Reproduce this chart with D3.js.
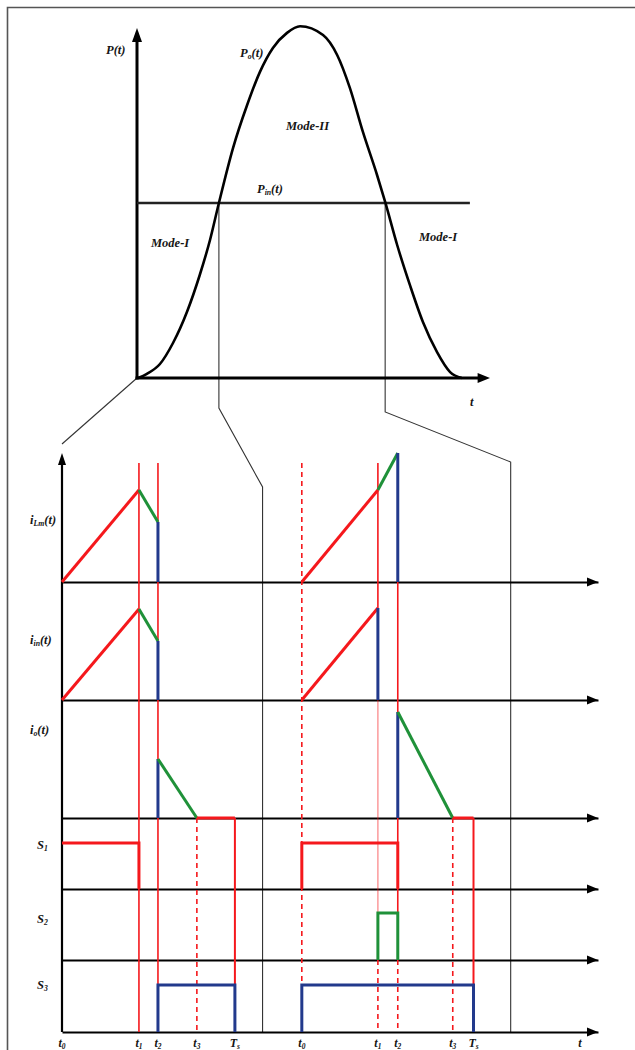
<!DOCTYPE html>
<html><head><meta charset="utf-8">
<script src="https://cdn.jsdelivr.net/npm/d3@7"></script>
<style>
html,body{margin:0;padding:0;background:#fff;}
svg{display:block;}
text{font-family:"Liberation Serif","DejaVu Serif",serif;font-style:italic;font-weight:bold;fill:#151515;}
</style></head>
<body>
<svg id="c" width="635" height="1050"></svg>
<script>
// ---------- DATA ----------
// Top chart: output power curve Po(t) (t, P) in arbitrary units
const curveT = [0.3, 2.8, 6.5, 10.2, 14.2, 17.8, 20.7, 23.2, 27.2, 31.2, 34.8, 38.5, 42.5, 46.2, 52.7, 56.7, 60.3, 64.0, 68.0, 70.3, 73.7, 77.3, 81.0, 85.0, 88.7, 92.0];
const curveP = [0, 1.2, 4.0, 10.0, 19.0, 29.5, 39.5, 50.0, 65.7, 78.0, 87.4, 94.3, 98.6, 100.5, 98.0, 92.3, 82.9, 70.3, 58.0, 50.3, 38.0, 26.6, 16.0, 7.4, 1.7, 0];
const pInLevel = 50;          // Pin(t)
const pInEnd = 94.3;          // Pin line extent
const crossT = [23.2, 70.3];  // intersections of Po and Pin

// Bottom chart: time instants (Ts = 10 units)
const period1 = {t0: 0, t1: 4.45, t2: 5.55, t3: 7.8, Ts: 10};
const period2 = {t0: 13.87, t1: 18.27, t2: 19.42, t3: 22.6, Ts: 23.8};
const zoomEdges = [11.6, 25.95];   // right edges of the zoomed windows
const tLabelT = 29.95;

// Panel baselines (bottom-chart vertical units) and labels
const panelNames = ["iLm", "iin", "io", "S1", "S2", "S3"];
const panelBase = [45, 33.2, 21.4, 14.3, 7.2, 0];
const panelLabelY = [51.2, 39.2, 30.2, 18.7, 11.3, 4.7];

// Waveform amplitudes
const iLmPeak = [9.2, 9.2];      // at t1 (period 1, period 2)
const iLmEnd  = [6.0, 12.9];     // at t2
const iinPeak = [9.1, 9.2];
const iinEnd1 = 5.9;             // period 1 at t2
const ioStart = [5.9, 10.6];     // at t2
const switchHigh = [4.6, 4.7, 4.7]; // S1, S2, S3

// ---------- SCALES ----------
const svg = d3.select("#c");
const xT = d3.scaleLinear().domain([0, 100]).range([137, 490]);
const yT = d3.scaleLinear().domain([0, 100]).range([378, 28]);
const xB = d3.scaleLinear().domain([0, 31]).range([62, 598]);
const yB = d3.scaleLinear().domain([0, 57.9]).range([1032, 453]);

const RED = "#f5181c", GREEN = "#1f9139", BLUE = "#22398c";

// frame
svg.append("path").attr("d", "M7.5,1050 L7.5,7.5 L640,7.5").attr("fill", "none").attr("stroke", "#555").attr("stroke-width", 1.6);

// ---------- CONNECTOR GUIDES ----------
const guide = svg.append("g").attr("fill", "none").attr("stroke", "#333").attr("stroke-width", 1.1);
const line = d3.line();
guide.append("path").attr("d", line([[xT(0), yT(0)], [xB(0), yB(58.8)]]));
guide.append("path").attr("d", line([[xT(crossT[0]), yT(pInLevel)], [xT(crossT[0]), yT(-8.6)], [xB(zoomEdges[0]), yB(54.5)], [xB(zoomEdges[0]), yB(0)]]));
guide.append("path").attr("d", line([[xT(crossT[1]), yT(pInLevel)], [xT(crossT[1]), yT(-9.7)], [xB(zoomEdges[1]), yB(57)], [xB(zoomEdges[1]), yB(0)]]));

// ---------- TOP CHART ----------
const topG = svg.append("g");
topG.append("line").attr("x1", xT(0)).attr("x2", xT(0)).attr("y1", yT(0) + 1.5).attr("y2", yT(97)).attr("stroke", "#000").attr("stroke-width", 3);
topG.append("path").attr("d", `M${xT(0)},${yT(100)} L${xT(0) - 5},${yT(96)} L${xT(0) + 5},${yT(96)} Z`).attr("fill", "#000");
topG.append("line").attr("x1", xT(0) - 1.5).attr("x2", xT(97)).attr("y1", yT(0)).attr("y2", yT(0)).attr("stroke", "#000").attr("stroke-width", 3);
topG.append("path").attr("d", `M${xT(100)},${yT(0)} L${xT(96.5)},${yT(0) - 5} L${xT(96.5)},${yT(0) + 5} Z`).attr("fill", "#000");
topG.append("line").attr("x1", xT(0)).attr("x2", xT(pInEnd)).attr("y1", yT(pInLevel)).attr("y2", yT(pInLevel)).attr("stroke", "#222").attr("stroke-width", 2.6);
topG.append("path").datum(curveT.map((t, i) => [t, curveP[i]]))
  .attr("d", d3.line().x(d => xT(d[0])).y(d => yT(d[1])).curve(d3.curveMonotoneX))
  .attr("fill", "none").attr("stroke", "#000").attr("stroke-width", 2.6);

function label(g, x, y, main, sub, tail, size, anchor) {
  const t = g.append("text").attr("x", x).attr("y", y).attr("font-size", size).attr("text-anchor", anchor || "start");
  t.append("tspan").text(main);
  if (sub) t.append("tspan").attr("font-size", size * 0.62).attr("dy", size * 0.18).text(sub);
  if (tail) t.append("tspan").attr("dy", sub ? -size * 0.18 : 0).text(tail);
  return t;
}
label(topG, 106, 54, "P", null, "(t)", 12.5);
label(topG, 240, 57, "P", "o", "(t)", 12.5);
label(topG, 286, 130, "Mode-II", null, null, 12.5);
label(topG, 257, 193, "P", "in", "(t)", 12.5);
label(topG, 151, 247, "Mode-I", null, null, 12.5);
label(topG, 419, 241, "Mode-I", null, null, 12.5);
label(topG, 470, 406, "t", null, null, 12.5);

// ---------- BOTTOM CHART ----------
const bot = svg.append("g");
// y axis
bot.append("line").attr("x1", xB(0)).attr("x2", xB(0)).attr("y1", yB(0)).attr("y2", yB(56.8)).attr("stroke", "#000").attr("stroke-width", 2.2);
bot.append("path").attr("d", `M${xB(0)},${yB(57.9)} L${xB(0) - 4},${yB(56.7)} L${xB(0) + 4},${yB(56.7)} Z`).attr("fill", "#000");
// baselines with arrows
panelBase.forEach(b => {
  const ax = bot.append("g").attr("transform", `translate(0,${yB(b)})`)
    .call(d3.axisBottom(xB).tickValues([]).tickSizeOuter(0));
  ax.select(".domain").attr("stroke", "#000").attr("stroke-width", 2.2);
  bot.append("path").attr("d", `M${xB(31)},${yB(b)} L${xB(31) - 11},${yB(b) - 4.5} L${xB(31) - 11},${yB(b) + 4.5} Z`).attr("fill", "#000");
});

// vertical time markers
const vm = bot.append("g").attr("fill", "none");
function vline(t, y1, y2, color, w, dash, op) {
  vm.append("line").attr("x1", xB(t)).attr("x2", xB(t)).attr("y1", yB(y1)).attr("y2", yB(y2))
    .attr("stroke", color).attr("stroke-width", w).attr("stroke-dasharray", dash || null).attr("opacity", op || 1);
}
const topY = 56.9;
// period 1
vline(period1.t1, topY, 0, RED, 1.6);
vline(period1.t2, topY, 0, RED, 1.6);
vline(period1.t3, panelBase[2], 0, RED, 1.6, "5,4");
vline(period1.Ts, panelBase[2], panelBase[5] + switchHigh[2], RED, 2);
// period 2
vline(period2.t0, topY, 0, RED, 1.6, "5,4");
vline(period2.t1, topY, panelBase[1], RED, 1.6);
vline(period2.t1, panelBase[1], panelBase[4] + switchHigh[1], RED, 1.2, null, 0.55);
vline(period2.t1, panelBase[4], 0, RED, 1.6, "5,4");
vline(period2.t2, topY, panelBase[4], RED, 1.6);
vline(period2.t2, panelBase[4], 0, RED, 1.6, "5,4");
vline(period2.t3, panelBase[2], 0, RED, 1.6, "5,4");
vline(period2.Ts, panelBase[2], panelBase[5] + switchHigh[2], RED, 2);

// waveforms
const wf = bot.append("g").attr("fill", "none").attr("stroke-width", 3).attr("stroke-linejoin", "miter");
function seg(pts, color) {
  wf.append("path").datum(pts).attr("d", d3.line().x(d => xB(d[0])).y(d => yB(d[1]))).attr("stroke", color);
}
const P = [period1, period2];
// iLm
P.forEach((p, k) => {
  const b = panelBase[0];
  seg([[p.t0, b], [p.t1, b + iLmPeak[k]]], RED);
  seg([[p.t1, b + iLmPeak[k]], [p.t2, b + iLmEnd[k]]], GREEN);
  seg([[p.t2, b + iLmEnd[k]], [p.t2, b]], BLUE);
});
// iin
{
  const b = panelBase[1];
  seg([[period1.t0, b], [period1.t1, b + iinPeak[0]]], RED);
  seg([[period1.t1, b + iinPeak[0]], [period1.t2, b + iinEnd1]], GREEN);
  seg([[period1.t2, b + iinEnd1], [period1.t2, b]], BLUE);
  seg([[period2.t0, b], [period2.t1, b + iinPeak[1]]], RED);
  seg([[period2.t1, b + iinPeak[1]], [period2.t1, b]], BLUE);
}
// io
P.forEach((p, k) => {
  const b = panelBase[2];
  seg([[p.t2, b], [p.t2, b + ioStart[k]]], BLUE);
  seg([[p.t2, b + ioStart[k]], [p.t3, b]], GREEN);
  seg([[p.t3, b], [p.Ts, b]], RED);
});
// S1
{
  const b = panelBase[3], h = switchHigh[0];
  seg([[period1.t0, b + h], [period1.t1, b + h], [period1.t1, b]], RED);
  seg([[period2.t0, b], [period2.t0, b + h], [period2.t2, b + h], [period2.t2, b]], RED);
}
// S2
{
  const b = panelBase[4], h = switchHigh[1];
  seg([[period2.t1, b], [period2.t1, b + h], [period2.t2, b + h], [period2.t2, b]], GREEN);
}
// S3
{
  const b = panelBase[5], h = switchHigh[2];
  seg([[period1.t2, b], [period1.t2, b + h], [period1.Ts, b + h], [period1.Ts, b]], BLUE);
  seg([[period2.t0, b], [period2.t0, b + h], [period2.Ts, b + h], [period2.Ts, b]], BLUE);
}

// panel labels
const lab = svg.append("g");
const labParts = [["i", "Lm", "(t)"], ["i", "in", "(t)"], ["i", "o", "(t)"], ["S", "1", null], ["S", "2", null], ["S", "3", null]];
labParts.forEach((p, i) => {
  const x = i < 3 ? 30 : 37;
  label(lab, x, yB(panelLabelY[i]) + 4, p[0], p[1], p[2], 12.5);
});

// time labels
const tl = svg.append("g");
P.forEach(p => {
  [["t", "0", p.t0], ["t", "1", p.t1], ["t", "2", p.t2], ["t", "3", p.t3], ["T", "s", p.Ts]].forEach(d => {
    label(tl, xB(d[2]), 1047, d[0], d[1], null, 12, "middle");
  });
});
label(tl, xB(tLabelT), 1047, "t", null, null, 12, "middle");
</script>
</body></html>
